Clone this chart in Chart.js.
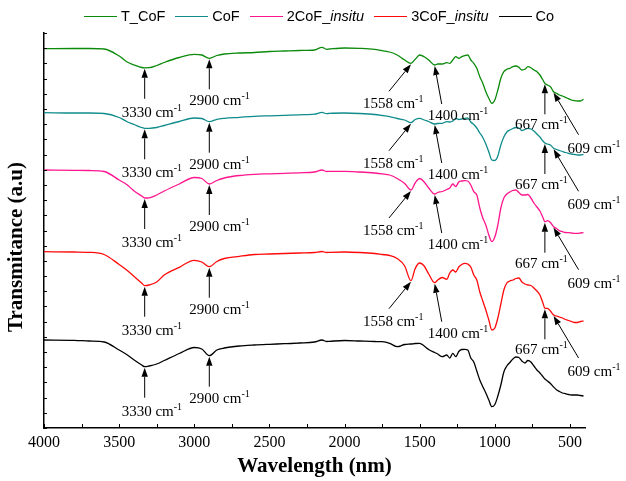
<!DOCTYPE html>
<html>
<head>
<meta charset="utf-8">
<title>FTIR spectra</title>
<script src="https://cdn.jsdelivr.net/npm/chart.js@4.4.1/dist/chart.umd.min.js"></script>
<style>
  html, body { margin: 0; padding: 0; background: #fff; }
  #wrap { position: relative; width: 626px; height: 481px; }
  #legend {
    position: absolute; left: 84px; top: 8px;
    display: flex; align-items: center;
    font: 14.5px "Liberation Sans", Arial, sans-serif; color: #000; white-space: nowrap;
  }
  #legend .item { display: flex; align-items: center; margin-right: 10px; }
  #legend .swatch { width: 33px; height: 0; border-top: 1.5px solid; margin-right: 4px; }
</style>
</head>
<body>
<div id="wrap">
  <canvas id="chart" width="626" height="481"></canvas>
  <div id="legend"></div>
</div>
<script>
// wavenumber grid (cm-1) shared by all spectra
const wavenumbers = [4000, 3800, 3700, 3600, 3500, 3450, 3400, 3350, 3330, 3300,
  3250, 3200, 3100, 3000, 2950, 2900, 2850, 2800, 2700, 2600,
  2500, 2400, 2300, 2200, 2150, 2120, 2100, 2000, 1900, 1800,
  1750, 1700, 1650, 1600, 1558, 1530, 1500, 1470, 1440, 1400,
  1380, 1350, 1320, 1300, 1280, 1260, 1240, 1220, 1200, 1180,
  1160, 1140, 1120, 1100, 1080, 1060, 1040, 1020, 1000, 980,
  960, 940, 920, 900, 880, 860, 840, 820, 800, 780,
  760, 740, 720, 700, 680, 667, 650, 630, 609, 590,
  570, 550, 530, 510, 490, 470, 450, 430, 410];

// stacked transmittance traces (arbitrary units, offset per sample)
const tCoF = [379.3, 379.5, 379.5, 379, 372, 366.3, 363, 360.5, 360.2, 360.3,
  362.5, 365.5, 370.5, 373.7, 373, 369.7, 372.5, 374, 375, 375.5,
  376.5, 377, 377.5, 378, 380.7, 378.7, 379, 380, 379.7, 378.7,
  377.3, 376, 373, 368, 364.7, 368.7, 373, 371.3, 368, 363,
  364, 364, 365.3, 364.7, 368, 371.3, 369.7, 371.3, 372.3, 373,
  368, 364.7, 359.7, 351.3, 344.7, 336.3, 329.7, 324.7, 328, 338,
  349.7, 356.3, 358.7, 359.7, 361.3, 362, 360.7, 358, 358.7, 361.3,
  360.3, 358, 356.3, 353, 348, 344.7, 343, 341.3, 336.3, 334.7,
  333, 332, 330.7, 329.3, 328, 327.3, 327, 327, 328.7];

const coF = [315.3, 315, 315, 314.5, 310.5, 306.5, 303.5, 300.5, 299.7, 299.7,
  300.5, 302.5, 306.5, 310, 309.5, 306.3, 308.7, 309.7, 310.7, 311.7,
  312.2, 312.7, 313.2, 313.8, 315.7, 314.3, 314.7, 315, 314.5, 313.5,
  312.5, 311.3, 309.5, 308, 305.3, 308.5, 309.7, 308, 306.5, 304,
  304.5, 304.7, 306.3, 306, 307, 309.7, 308.5, 309, 309.7, 310,
  306, 303.5, 300, 295, 290.5, 284, 276, 268, 267.5, 272,
  283, 291, 296, 298, 299.5, 300.5, 300, 297.5, 298.5, 299.7,
  299, 297, 294, 291, 287, 285, 284, 283, 279.7, 278.5,
  277.5, 276.5, 275.5, 274.7, 274, 273.5, 273, 273, 273.7];

const coF2Insitu = [258, 257.7, 257.5, 256.5, 248, 243.5, 237, 232, 230, 230.2,
  233, 237, 244, 250.5, 249.5, 244, 247.5, 250, 252.5, 253.7,
  254.2, 254.7, 255.2, 256, 258, 256.5, 256.7, 256.7, 256, 255,
  254.2, 253, 249.5, 244.5, 238, 245, 249.5, 246, 240, 234,
  235.5, 236.5, 238.5, 240, 244, 241.5, 246, 247, 247.3, 247,
  243, 236.3, 233, 220, 210, 203, 193, 186.3, 191, 203,
  220, 230, 234, 236, 237.5, 238, 235.5, 233, 233, 233.5,
  230, 225, 221, 217, 210.5, 206.3, 207.3, 205.5, 201.3, 199.5,
  197.3, 196.3, 195.5, 195.3, 195, 194.7, 194.7, 195, 195.3];

const coF3Insitu = [176.3, 176, 175.7, 173.5, 163.5, 158, 151.5, 145, 142.3, 143,
  146, 153, 160.7, 167.7, 166, 161.3, 166.5, 169.5, 171.7, 173.5,
  174, 174.5, 175, 175.5, 176.5, 175.5, 175.7, 176, 175.5, 174.5,
  173.5, 172.5, 169.5, 162, 147.3, 159.5, 165, 162, 154, 145.3,
  148, 150.5, 148.7, 155, 158, 156, 161, 163.5, 164.7, 164,
  161, 153, 148, 136, 127, 118, 108, 98, 100, 110,
  124, 138, 145, 147, 148, 149.5, 150, 146, 144, 143,
  142.5, 140, 137, 133, 125, 119.7, 119.7, 117, 113, 112,
  111, 110, 108.5, 107.5, 106.5, 105.5, 105.5, 106.5, 107];

const co = [88, 87.7, 87, 86, 78, 73.5, 68, 63, 61.3, 62,
  64, 67.5, 74.5, 80.5, 79, 72.3, 78, 80, 82, 83,
  83.7, 84.3, 85, 86, 88, 86.5, 86.7, 87.5, 87, 86.5,
  86.3, 84.7, 81.3, 83.5, 84, 84.5, 84.7, 82, 78.5, 75.5,
  74, 71.3, 73, 70, 74.7, 71.3, 76.5, 78.5, 78.7, 78,
  70, 66, 57, 48, 41.3, 35, 28, 21.3, 23.5, 32,
  43, 56, 62, 65.5, 69, 71, 70.5, 67, 65, 67.5,
  66, 62, 58, 55, 51.3, 49, 47, 44.5, 41, 38.3,
  36.5, 35, 34.3, 33.5, 33, 33, 33, 32.5, 32];

const seriesNames = ['T_CoF', 'CoF', '2CoF_insitu', '3CoF_insitu', 'Co'];
const seriesValues = [tCoF, coF, coF2Insitu, coF3Insitu, co];
const seriesColors = ['#0b8a0b', '#0f8b8b', '#ff158d', '#ff0a0a', '#000000'];

// marked bands per series
const allPeaks = [3330, 2900, 1558, 1400, 667, 609];
const markedPeaks = [allPeaks, allPeaks, allPeaks, allPeaks, [3330, 2900]];

const xTickValues = [500, 750, 1000, 1250, 1500, 1750, 2000, 2250, 2500, 2750, 3000, 3250, 3500, 3750, 4000];

// arrow tail offset from tip, label offset from tail (left x, baseline y)
const peakStyle = {
  3330: { tail: [0, 30], label: [-23, 18] },
  2900: { tail: [0, 30], label: [-20, 16] },
  1558: { tail: [-22, 27], label: [-26, 17] },
  1400: { tail: [7, 38], label: [-14, 16] },
  667:  { tail: [0, 30], label: [-30, 15] },
  609:  { tail: [25, 42], label: [-11, 18] }
};

const serif = '"Liberation Serif", "Times New Roman", serif';

// ---- legend (html so "insitu" can be italic) ----
const legendEl = document.getElementById('legend');
seriesNames.forEach((name, i) => {
  const parts = name.split('_');
  let html = parts[0];
  if (parts[1] === 'insitu') html += '_<i>insitu</i>';
  else if (parts[1]) html += '_' + parts[1];
  legendEl.innerHTML += `<div class="item"><span class="swatch" style="border-color:${seriesColors[i]}"></span><span>${html}</span></div>`;
});

function drawArrow(ctx, tx, ty, hx, hy) {
  const ang = Math.atan2(hy - ty, hx - tx);
  const head = 9, half = 3.2;
  const bx = hx - head * Math.cos(ang), by = hy - head * Math.sin(ang);
  ctx.beginPath();
  ctx.moveTo(tx, ty);
  ctx.lineTo(bx, by);
  ctx.stroke();
  ctx.beginPath();
  ctx.moveTo(hx, hy);
  ctx.lineTo(bx + half * Math.sin(ang), by - half * Math.cos(ang));
  ctx.lineTo(bx - half * Math.sin(ang), by + half * Math.cos(ang));
  ctx.closePath();
  ctx.fill();
}

const decorPlugin = {
  id: 'decor',
  afterDraw(chart) {
    const ctx = chart.ctx;
    const xs = chart.scales.x, ys = chart.scales.y;
    const area = chart.chartArea;
    ctx.save();
    ctx.strokeStyle = '#000';
    ctx.fillStyle = '#000';
    ctx.lineWidth = 1;

    // inward tick marks
    xs.ticks.forEach(t => {
      const px = Math.round(xs.getPixelForValue(t.value)) + 0.5;
      ctx.beginPath();
      ctx.moveTo(px, area.bottom);
      ctx.lineTo(px, area.bottom - 4);
      ctx.stroke();
    });
    ys.ticks.forEach(t => {
      const py = Math.round(ys.getPixelForValue(t.value)) + 0.5;
      ctx.beginPath();
      ctx.moveTo(area.left, py);
      ctx.lineTo(area.left + 3, py);
      ctx.stroke();
    });

    // y axis title
    ctx.save();
    ctx.translate(17, 247);
    ctx.rotate(-Math.PI / 2);
    ctx.font = 'bold 21px ' + serif;
    ctx.textAlign = 'center';
    ctx.textBaseline = 'middle';
    ctx.fillText('Transmitance (a.u)', 0, 0);
    ctx.restore();

    // band markers
    ctx.textAlign = 'left';
    ctx.textBaseline = 'alphabetic';
    markedPeaks.forEach((peaks, si) => {
      peaks.forEach(w => {
        const idx = wavenumbers.indexOf(w);
        const hx = xs.getPixelForValue(w);
        const hy = ys.getPixelForValue(seriesValues[si][idx]) + 1;
        const st = peakStyle[w];
        const tx = hx + st.tail[0], ty = hy + st.tail[1];
        drawArrow(ctx, tx, ty, hx, hy);
        const lx = tx + st.label[0], ly = ty + st.label[1];
        ctx.font = '15px ' + serif;
        const txt = w + ' cm';
        ctx.fillText(txt, lx, ly);
        const wd = ctx.measureText(txt).width;
        ctx.font = '10px ' + serif;
        ctx.fillText('-1', lx + wd, ly - 6);
      });
    });
    ctx.restore();
  }
};

new Chart(document.getElementById('chart'), {
  type: 'line',
  data: {
    datasets: seriesNames.map((name, i) => ({
      label: name,
      data: wavenumbers.map((w, j) => ({ x: w, y: seriesValues[i][j] })),
      borderColor: seriesColors[i],
      borderWidth: 1.3,
      pointRadius: 0,
      fill: false,
      cubicInterpolationMode: 'monotone'
    }))
  },
  options: {
    responsive: false,
    animation: false,
    layout: { padding: { top: 33, right: 41, left: 0, bottom: 0 } },
    plugins: {
      legend: { display: false },
      tooltip: { enabled: false }
    },
    scales: {
      x: {
        type: 'linear',
        reverse: true,
        min: 400,
        max: 4000,
        afterBuildTicks: s => { s.ticks = xTickValues.map(v => ({ value: v })); },
        afterFit: s => { s.height = 53; },
        grid: { display: false, drawTicks: false },
        border: { display: true, color: '#000', width: 1.5 },
        ticks: {
          autoSkip: false,
          maxRotation: 0,
          padding: 5,
          color: '#000',
          font: { family: serif, size: 16 },
          callback: v => (v % 500 === 0 ? String(v) : '')
        },
        title: {
          display: true,
          text: 'Wavelength (nm)',
          color: '#000',
          font: { family: serif, size: 21, weight: 'bold' },
          padding: { top: 0, bottom: 2 }
        }
      },
      y: {
        type: 'linear',
        min: 0,
        max: 395,
        afterBuildTicks: s => {
          const t = [];
          for (let i = 0; i <= 26; i++) t.push({ value: i * 395 / 26 });
          s.ticks = t;
        },
        afterFit: s => { s.width = 44; },
        grid: { display: false, drawTicks: false },
        border: { display: true, color: '#000', width: 1.5 },
        ticks: { display: false }
      }
    }
  },
  plugins: [decorPlugin]
});
</script>
</body>
</html>
